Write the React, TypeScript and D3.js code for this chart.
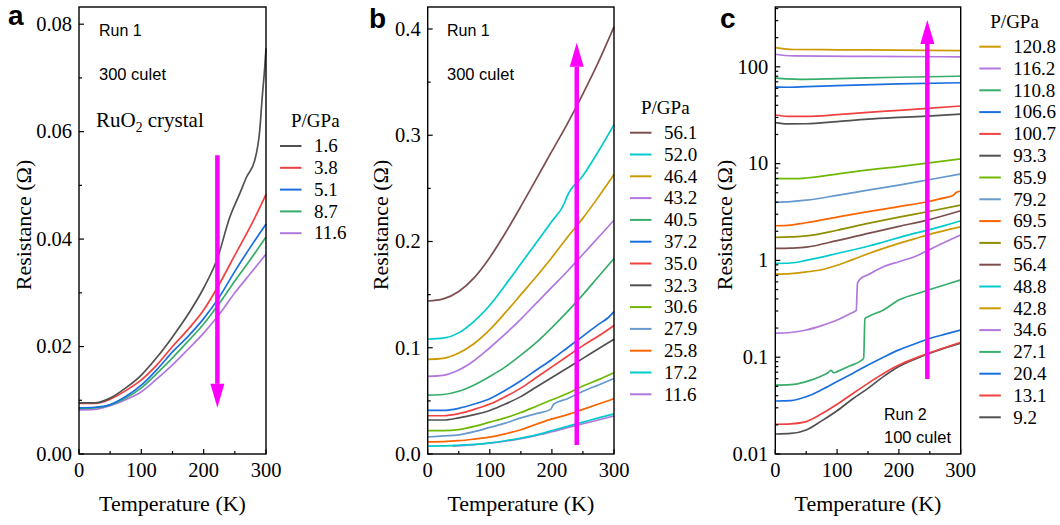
import React from "react";
import * as d3 from "d3";

// Origin "Bright" colour list
const GRAY = "#515151";
const RED = "#F14040";
const BLUE = "#1A6FDF";
const GREEN = "#37AD6B";
const PURPLE = "#B177DE";
const GOLD = "#CC9900";
const CYAN = "#00CBCC";
const BROWN = "#7D4E4E";
const OLIVE = "#8E8E00";
const ORANGE = "#FB6501";
const LTBLUE = "#6699CC";
const LIME = "#6FB802";
const MAGENTA = "#FF00FF";

const SERIF = "'Liberation Serif', 'Times New Roman', serif";
const SANS = "'Liberation Sans', Arial, sans-serif";

type Pt = [number, number];

// ---- panel a : [T (K), R (ohm)] ----
const a_1p6: Pt[] = [[0, 0.0095], [25, 0.0095], [50, 0.0104], [75, 0.0123], [100, 0.0147], [125, 0.018], [150, 0.0218], [175, 0.026], [200, 0.0309], [222, 0.0364], [242, 0.0441], [258, 0.0485], [269, 0.0516], [282, 0.0547], [290, 0.0603], [294, 0.0665], [298, 0.072], [300, 0.0755]];
const a_3p8: Pt[] = [[0, 0.0094], [25, 0.0094], [50, 0.0102], [75, 0.0118], [100, 0.0138], [125, 0.0166], [150, 0.02], [175, 0.0232], [200, 0.0268], [225, 0.0316], [250, 0.037], [280, 0.0435], [300, 0.0483]];
const a_5p1: Pt[] = [[0, 0.0086], [25, 0.0087], [50, 0.0092], [75, 0.0107], [100, 0.0128], [125, 0.0157], [150, 0.019], [175, 0.0219], [200, 0.0252], [225, 0.0292], [250, 0.034], [275, 0.0385], [300, 0.0428]];
const a_8p7: Pt[] = [[0, 0.0085], [25, 0.0086], [50, 0.0091], [75, 0.0104], [100, 0.0123], [125, 0.015], [150, 0.0179], [175, 0.021], [200, 0.0242], [225, 0.028], [250, 0.0322], [275, 0.0362], [300, 0.0404]];
const a_11p6: Pt[] = [[0, 0.0082], [25, 0.0083], [50, 0.009], [75, 0.0101], [100, 0.0116], [125, 0.014], [150, 0.0166], [175, 0.0195], [200, 0.0225], [225, 0.026], [250, 0.03], [275, 0.0336], [300, 0.0372]];

// ---- panel b ----
const b_56p1: Pt[] = [[0, 0.144], [25, 0.146], [50, 0.153], [75, 0.166], [100, 0.185], [125, 0.208], [150, 0.233], [175, 0.259], [200, 0.285], [225, 0.311], [250, 0.339], [275, 0.369], [300, 0.402]];
const b_52p0: Pt[] = [[0, 0.108], [25, 0.109], [50, 0.114], [75, 0.125], [100, 0.14], [125, 0.159], [150, 0.179], [175, 0.199], [200, 0.219], [220, 0.236], [224, 0.242], [250, 0.262], [275, 0.285], [300, 0.31]];
const b_46p4: Pt[] = [[0, 0.089], [25, 0.09], [50, 0.095], [75, 0.104], [100, 0.117], [125, 0.133], [150, 0.15], [175, 0.167], [200, 0.185], [225, 0.204], [250, 0.222], [275, 0.242], [300, 0.263]];
const b_43p2: Pt[] = [[0, 0.073], [25, 0.074], [50, 0.079], [75, 0.088], [100, 0.1], [125, 0.113], [150, 0.127], [175, 0.142], [200, 0.157], [225, 0.172], [250, 0.188], [275, 0.204], [300, 0.22]];
const b_40p5: Pt[] = [[0, 0.0555], [25, 0.056], [50, 0.059], [75, 0.065], [100, 0.073], [125, 0.082], [150, 0.093], [175, 0.105], [200, 0.119], [225, 0.134], [250, 0.15], [275, 0.167], [300, 0.184]];
const b_37p2: Pt[] = [[0, 0.041], [25, 0.041], [50, 0.043], [75, 0.047], [100, 0.052], [125, 0.06], [150, 0.069], [175, 0.079], [200, 0.089], [225, 0.1], [250, 0.111], [275, 0.122], [290, 0.128], [300, 0.134]];
const b_35p0: Pt[] = [[0, 0.036], [25, 0.036], [50, 0.038], [75, 0.042], [100, 0.047], [125, 0.054], [150, 0.062], [175, 0.072], [200, 0.082], [225, 0.092], [250, 0.102], [275, 0.111], [300, 0.121]];
const b_32p3: Pt[] = [[0, 0.032], [25, 0.032], [50, 0.034], [75, 0.037], [100, 0.041], [125, 0.047], [150, 0.054], [175, 0.063], [200, 0.072], [225, 0.081], [250, 0.09], [275, 0.099], [300, 0.108]];
const b_30p6: Pt[] = [[0, 0.022], [25, 0.022], [50, 0.023], [75, 0.026], [100, 0.03], [125, 0.034], [150, 0.039], [175, 0.045], [200, 0.051], [225, 0.057], [250, 0.064], [275, 0.07], [300, 0.0765]];
const b_27p9: Pt[] = [[0, 0.016], [25, 0.017], [50, 0.018], [75, 0.021], [100, 0.025], [125, 0.029], [150, 0.034], [175, 0.038], [198, 0.042], [203, 0.047], [225, 0.052], [250, 0.059], [275, 0.065], [300, 0.071]];
const b_25p8: Pt[] = [[0, 0.0115], [25, 0.0117], [50, 0.0125], [75, 0.014], [100, 0.0158], [125, 0.019], [150, 0.0228], [175, 0.028], [200, 0.033], [225, 0.037], [250, 0.042], [275, 0.047], [300, 0.052]];
const b_17p2: Pt[] = [[0, 0.0075], [25, 0.0076], [50, 0.0082], [75, 0.009], [100, 0.0105], [125, 0.0125], [150, 0.015], [175, 0.018], [200, 0.022], [225, 0.026], [250, 0.03], [275, 0.034], [300, 0.0378]];
const b_11p6: Pt[] = [[40, 0.0074], [50, 0.0078], [75, 0.0087], [100, 0.0101], [125, 0.012], [150, 0.0145], [175, 0.0175], [200, 0.021], [225, 0.0248], [250, 0.0285], [275, 0.032], [300, 0.0358]];

// ---- panel c (log scale) ----
const c_120p8: Pt[] = [[0, 158], [15, 153], [30, 151], [100, 150], [200, 149], [300, 147]];
const c_116p2: Pt[] = [[0, 135], [15, 131], [30, 129.5], [150, 128], [300, 127]];
const c_110p8: Pt[] = [[0, 77], [20, 75], [40, 74.3], [100, 75.5], [200, 78], [300, 80]];
const c_106p6: Pt[] = [[0, 62], [20, 61.5], [50, 62.3], [100, 63.8], [200, 66.5], [300, 68.5]];
const c_100p7: Pt[] = [[0, 31.8], [20, 30.8], [50, 30.7], [100, 32], [150, 33.8], [200, 35.5], [246, 37.2], [300, 39.4]];
const c_93p3: Pt[] = [[0, 26.5], [20, 25.7], [50, 25.8], [100, 27.2], [150, 28.8], [200, 30], [246, 31], [300, 32.5]];
const c_85p9: Pt[] = [[0, 7.05], [30, 7.0], [50, 7.1], [100, 7.8], [150, 8.6], [200, 9.3], [246, 10.1], [300, 11.2]];
const c_79p2: Pt[] = [[0, 3.98], [25, 4.05], [50, 4.19], [100, 4.7], [150, 5.33], [200, 6.0], [246, 6.77], [300, 7.82]];
const c_69p5: Pt[] = [[0, 2.28], [25, 2.32], [50, 2.45], [100, 2.8], [150, 3.19], [200, 3.6], [246, 4.04], [275, 4.45], [288, 4.7], [292, 5.0], [300, 5.21]];
const c_65p7: Pt[] = [[0, 1.73], [25, 1.75], [50, 1.79], [100, 2.05], [150, 2.41], [200, 2.8], [246, 3.18], [300, 3.73]];
const c_56p4: Pt[] = [[0, 1.33], [25, 1.34], [50, 1.37], [100, 1.6], [150, 1.9], [200, 2.25], [246, 2.61], [300, 3.26]];
const c_48p8: Pt[] = [[0, 0.93], [25, 0.94], [50, 1.0], [75, 1.08], [100, 1.18], [125, 1.28], [150, 1.4], [175, 1.55], [200, 1.72], [225, 1.9], [250, 2.08], [275, 2.3], [300, 2.57]];
const c_42p8: Pt[] = [[0, 0.72], [25, 0.73], [50, 0.76], [75, 0.8], [100, 0.89], [125, 1.02], [150, 1.17], [175, 1.33], [200, 1.5], [225, 1.67], [250, 1.86], [275, 2.04], [300, 2.22]];
const c_34p6: Pt[] = [[0, 0.177], [25, 0.18], [50, 0.191], [75, 0.212], [100, 0.242], [120, 0.28], [131, 0.305], [133, 0.58], [137, 0.64], [150, 0.71], [175, 0.86], [200, 0.97], [225, 1.09], [250, 1.3], [275, 1.55], [300, 1.83]];
const c_27p1: Pt[] = [[0, 0.0515], [25, 0.052], [50, 0.056], [75, 0.064], [85, 0.069], [90, 0.073], [95, 0.069], [100, 0.071], [120, 0.081], [143, 0.097], [145, 0.25], [150, 0.262], [175, 0.308], [200, 0.39], [225, 0.445], [250, 0.5], [275, 0.56], [300, 0.63]];
const c_20p4: Pt[] = [[0, 0.0353], [25, 0.0356], [50, 0.039], [75, 0.046], [100, 0.056], [125, 0.068], [150, 0.083], [175, 0.1], [200, 0.119], [225, 0.137], [250, 0.156], [275, 0.173], [300, 0.191]];
const c_13p1: Pt[] = [[0, 0.0203], [25, 0.0205], [50, 0.0216], [75, 0.026], [100, 0.0326], [125, 0.042], [150, 0.0537], [175, 0.068], [200, 0.083], [225, 0.097], [250, 0.111], [275, 0.126], [300, 0.1425]];
const c_9p2: Pt[] = [[0, 0.0161], [25, 0.0163], [50, 0.0177], [75, 0.022], [100, 0.028], [125, 0.037], [150, 0.0477], [175, 0.063], [200, 0.08], [225, 0.095], [250, 0.11], [275, 0.125], [300, 0.14]];

// legend labels and colours, top to bottom
const A_LABELS = ["1.6", "3.8", "5.1", "8.7", "11.6"];
const A_COLORS = [GRAY, RED, BLUE, GREEN, PURPLE];
const A_DATA = [a_1p6, a_3p8, a_5p1, a_8p7, a_11p6];

const B_LABELS = ["56.1", "52.0", "46.4", "43.2", "40.5", "37.2", "35.0", "32.3", "30.6", "27.9", "25.8", "17.2", "11.6"];
const B_COLORS = [BROWN, CYAN, GOLD, PURPLE, GREEN, BLUE, RED, GRAY, LIME, LTBLUE, ORANGE, CYAN, PURPLE];
const B_DATA = [b_56p1, b_52p0, b_46p4, b_43p2, b_40p5, b_37p2, b_35p0, b_32p3, b_30p6, b_27p9, b_25p8, b_17p2, b_11p6];

const C_LABELS = ["120.8", "116.2", "110.8", "106.6", "100.7", "93.3", "85.9", "79.2", "69.5", "65.7", "56.4", "48.8", "42.8", "34.6", "27.1", "20.4", "13.1", "9.2"];
const C_COLORS = [GOLD, PURPLE, GREEN, BLUE, RED, GRAY, LIME, LTBLUE, ORANGE, OLIVE, BROWN, CYAN, GOLD, PURPLE, GREEN, BLUE, RED, GRAY];
const C_DATA = [c_120p8, c_116p2, c_110p8, c_106p6, c_100p7, c_93p3, c_85p9, c_79p2, c_69p5, c_65p7, c_56p4, c_48p8, c_42p8, c_34p6, c_27p1, c_20p4, c_13p1, c_9p2];

const X_TICKS = [0, 100, 200, 300];
const X_MINOR = [50, 150, 250];
const A_YTICKS = [0, 0.02, 0.04, 0.06, 0.08];
const A_YMINOR = [0.01, 0.03, 0.05, 0.07];
const B_YTICKS = [0, 0.1, 0.2, 0.3, 0.4];
const B_YMINOR = [0.05, 0.15, 0.25, 0.35];
const C_YTICKS = [0.01, 0.1, 1, 10, 100];

const TOP = 7;
const BOTTOM = 454;

const drawPanel = (svg: any, p: any) => {
  const x = d3.scaleLinear().domain([0, 300]).range([p.left, p.right]);
  const y: any = p.log
    ? d3.scaleLog().domain(p.yDomain).range([BOTTOM, TOP])
    : d3.scaleLinear().domain(p.yDomain).range([BOTTOM, TOP]);
  const g = svg.append("g");

  // curves, last legend entry drawn first
  const line = d3
    .line<Pt>()
    .x((d) => x(d[0]))
    .y((d) => y(d[1]))
    .curve(d3.curveMonotoneX);
  for (let i = p.data.length - 1; i >= 0; i--) {
    g.append("path")
      .attr("d", line(p.data[i]))
      .attr("fill", "none")
      .attr("stroke", p.colors[i])
      .attr("stroke-width", 1.7)
      .attr("stroke-linejoin", "round");
  }

  // frame
  g.append("rect")
    .attr("x", p.left)
    .attr("y", TOP)
    .attr("width", p.right - p.left)
    .attr("height", BOTTOM - TOP)
    .attr("fill", "none")
    .attr("stroke", "#000")
    .attr("stroke-width", 1.4);

  // ticks, pointing inward
  const tick = (x1: number, y1: number, x2: number, y2: number) =>
    g.append("line").attr("x1", x1).attr("y1", y1).attr("x2", x2).attr("y2", y2).attr("stroke", "#000").attr("stroke-width", 1.2);
  X_TICKS.forEach((t) => {
    tick(x(t), BOTTOM, x(t), BOTTOM - 5);
    g.append("text")
      .attr("x", x(t))
      .attr("y", BOTTOM + 22.5)
      .attr("text-anchor", "middle")
      .attr("font-family", SERIF)
      .attr("font-size", 20.5)
      .text(t);
  });
  X_MINOR.forEach((t) => tick(x(t), BOTTOM, x(t), BOTTOM - 3));

  p.yTicks.forEach((v: number) => {
    tick(p.left, y(v), p.left + 5, y(v));
    g.append("text")
      .attr("x", p.left - 7)
      .attr("y", y(v))
      .attr("dy", "0.33em")
      .attr("text-anchor", "end")
      .attr("font-family", SERIF)
      .attr("font-size", 20.5)
      .text(p.yFormat(v));
  });
  p.yMinor.forEach((v: number) => tick(p.left, y(v), p.left + 3, y(v)));

  // axis titles
  g.append("text")
    .attr("x", (p.left + p.right) / 2)
    .attr("y", 511)
    .attr("text-anchor", "middle")
    .attr("font-family", SERIF)
    .attr("font-size", 22)
    .text("Temperature (K)");
  g.append("text")
    .attr("transform", `translate(${p.ylabelX},225) rotate(-90)`)
    .attr("text-anchor", "middle")
    .attr("font-family", SERIF)
    .attr("font-size", 22)
    .text("Resistance (Ω)");

  // panel letter
  g.append("text")
    .attr("x", p.letterX)
    .attr("y", p.letterY)
    .attr("font-family", SANS)
    .attr("font-weight", "bold")
    .attr("font-size", 28)
    .text(p.letter);

  // legend
  g.append("text")
    .attr("x", p.legX + 11)
    .attr("y", p.legY - 19)
    .attr("font-family", SERIF)
    .attr("font-size", 19)
    .text("P/GPa");
  p.labels.forEach((lab: string, i: number) => {
    const ly = p.legY + i * 21.8;
    g.append("line")
      .attr("x1", p.legX)
      .attr("x2", p.legX + 21.5)
      .attr("y1", ly)
      .attr("y2", ly)
      .attr("stroke", p.colors[i])
      .attr("stroke-width", 2);
    g.append("text")
      .attr("x", p.legX + 34)
      .attr("y", ly)
      .attr("dy", "0.33em")
      .attr("font-family", SERIF)
      .attr("font-size", 19)
      .text(lab);
  });

  // arrow
  const ax = x(p.arrow.t);
  const y0 = y(p.arrow.from);
  const y1 = y(p.arrow.to);
  const dir = y1 > y0 ? 1 : -1;
  const headLen = 24;
  g.append("line")
    .attr("x1", ax)
    .attr("x2", ax)
    .attr("y1", y0)
    .attr("y2", y1 - dir * headLen)
    .attr("stroke", MAGENTA)
    .attr("stroke-width", 4.5);
  g.append("path")
    .attr("d", `M${ax - 7},${y1 - dir * headLen} L${ax + 7},${y1 - dir * headLen} L${ax},${y1} Z`)
    .attr("fill", MAGENTA);

  // annotations
  p.notes.forEach((n: any) => {
    const t = g
      .append("text")
      .attr("x", n.x)
      .attr("y", n.y)
      .attr("font-family", n.serif ? SERIF : SANS)
      .attr("font-size", n.size);
    if (n.sub) {
      t.append("tspan").text(n.text);
      t.append("tspan").attr("dy", 5).attr("font-size", n.size * 0.65).text(n.sub);
      t.append("tspan").attr("dy", -5).text(n.after);
    } else {
      t.text(n.text);
    }
  });
};

const App = () => {
  const svgRef = React.useRef<SVGSVGElement>(null);

  React.useEffect(() => {
    const svg = d3.select(svgRef.current);
    svg.selectAll("*").remove();

    drawPanel(svg, {
      left: 79,
      right: 266,
      yDomain: [0, 0.0832],
      yTicks: A_YTICKS,
      yMinor: A_YMINOR,
      yFormat: d3.format(".2f"),
      data: A_DATA,
      colors: A_COLORS,
      labels: A_LABELS,
      legX: 280,
      legY: 146,
      ylabelX: 31,
      letter: "a",
      letterX: 8,
      letterY: 25,
      arrow: { t: 222, from: 0.0556, to: 0.0086 },
      notes: [
        { x: 99, y: 36, size: 16, text: "Run 1" },
        { x: 99, y: 80, size: 16.5, text: "300 culet" },
        { x: 96, y: 127, size: 21, serif: true, text: "RuO", sub: "2", after: " crystal" },
      ],
    });

    drawPanel(svg, {
      left: 427.7,
      right: 614,
      yDomain: [0, 0.4207],
      yTicks: B_YTICKS,
      yMinor: B_YMINOR,
      yFormat: d3.format(".1f"),
      data: B_DATA,
      colors: B_COLORS,
      labels: B_LABELS,
      legX: 630,
      legY: 132.7,
      ylabelX: 388,
      letter: "b",
      letterX: 369,
      letterY: 28,
      arrow: { t: 240, from: 0.0085, to: 0.387 },
      notes: [
        { x: 447, y: 36, size: 16, text: "Run 1" },
        { x: 447, y: 80, size: 16.5, text: "300 culet" },
      ],
    });

    const logMinor: number[] = [];
    [0.01, 0.1, 1, 10, 100].forEach((d) => {
      for (let k = 2; k <= 9; k++) if (d * k < 415) logMinor.push(d * k);
    });

    drawPanel(svg, {
      left: 775.3,
      right: 960.7,
      log: true,
      yDomain: [0.01, 415],
      yTicks: C_YTICKS,
      yMinor: logMinor,
      yFormat: (v: number) => String(v),
      data: C_DATA,
      colors: C_COLORS,
      labels: C_LABELS,
      legX: 979.3,
      legY: 46.7,
      ylabelX: 732,
      letter: "c",
      letterX: 720,
      letterY: 28,
      arrow: { t: 246, from: 0.0596, to: 304 },
      notes: [
        { x: 884, y: 420, size: 16, text: "Run 2" },
        { x: 884, y: 443, size: 16.5, text: "100 culet" },
      ],
    });
  }, []);

  return (
    <svg
      ref={svgRef}
      width={1060}
      height={525}
      style={{ position: "absolute", left: 0, top: 0, background: "#fff" }}
    />
  );
};

export default App;
